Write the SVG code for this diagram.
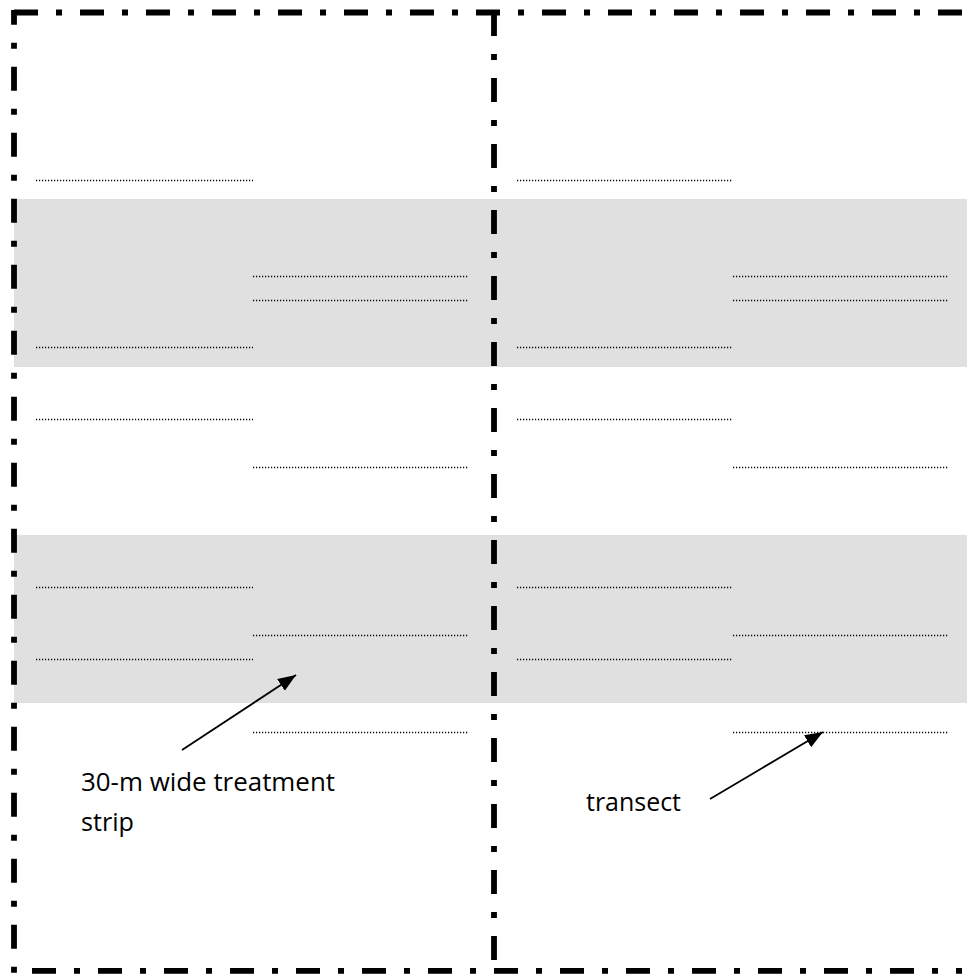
<svg xmlns="http://www.w3.org/2000/svg" width="967" height="974" viewBox="0 0 967 974">
<defs>
<style>
.band{fill:#E0E0E0;stroke:none}
.border{stroke:#000;stroke-width:5.8;fill:none;stroke-dasharray:24 18 6 18}
.tr{stroke:#000;stroke-width:1.5;fill:none;stroke-dasharray:1.2 1.8}
.arrow{stroke:#000;stroke-width:1.8;fill:none;marker-end:url(#head)}
.lbl{font-family:"Open Sans","Noto Sans","Liberation Sans",sans-serif;font-size:25px;fill:#000}
</style>
<marker id="head" markerUnits="userSpaceOnUse" markerWidth="19" markerHeight="15" refX="18" refY="7" orient="auto" viewBox="0 0 19 15">
<path d="M0,0 L18,7 L0,14 z" fill="#000"/>
</marker>
</defs>
<rect width="967" height="974" fill="#fff"/>
<g id="strips">
<rect id="strip1" class="band" x="14" y="199" width="953" height="168"/>
<rect id="strip2" class="band" x="14" y="535" width="953" height="168"/>
</g>
<g id="transects">
<line class="tr" x1="36" y1="180.5" x2="253" y2="180.5"/>
<line class="tr" x1="517" y1="180.5" x2="733" y2="180.5"/>
<line class="tr" x1="253" y1="276.5" x2="469" y2="276.5"/>
<line class="tr" x1="733" y1="276.5" x2="949" y2="276.5"/>
<line class="tr" x1="253" y1="300.5" x2="469" y2="300.5"/>
<line class="tr" x1="733" y1="300.5" x2="949" y2="300.5"/>
<line class="tr" x1="36" y1="347.5" x2="253" y2="347.5"/>
<line class="tr" x1="517" y1="347.5" x2="733" y2="347.5"/>
<line class="tr" x1="36" y1="419.5" x2="253" y2="419.5"/>
<line class="tr" x1="517" y1="419.5" x2="733" y2="419.5"/>
<line class="tr" x1="253" y1="467.5" x2="469" y2="467.5"/>
<line class="tr" x1="733" y1="467.5" x2="949" y2="467.5"/>
<line class="tr" x1="36" y1="587.5" x2="253" y2="587.5"/>
<line class="tr" x1="517" y1="587.5" x2="733" y2="587.5"/>
<line class="tr" x1="253" y1="635.5" x2="469" y2="635.5"/>
<line class="tr" x1="733" y1="635.5" x2="949" y2="635.5"/>
<line class="tr" x1="36" y1="659.5" x2="253" y2="659.5"/>
<line class="tr" x1="517" y1="659.5" x2="733" y2="659.5"/>
<line class="tr" x1="253" y1="732.5" x2="469" y2="732.5"/>
<line class="tr" x1="733" y1="732.5" x2="949" y2="732.5"/>
</g>
<g id="borders">
<line class="border" x1="14" y1="12.5" x2="962" y2="12.5"/>
<line class="border" x1="14" y1="10" x2="14" y2="973" stroke-dashoffset="9.3"/>
<line class="border" x1="494" y1="12" x2="494" y2="960"/>
<line class="border" x1="32" y1="970.8" x2="962" y2="970.8"/>
</g>
<g id="connectors">
<line class="arrow" x1="182" y1="750" x2="296" y2="675"/>
<line class="arrow" x1="710" y1="799" x2="823" y2="732"/>
</g>
<g id="label-strip">
<text class="lbl" x="81" y="791" textLength="254" lengthAdjust="spacingAndGlyphs">30-m wide treatment</text>
<text class="lbl" x="81" y="831" textLength="53" lengthAdjust="spacingAndGlyphs">strip</text>
</g>
<g id="label-transect">
<text class="lbl" x="586" y="811" textLength="95" lengthAdjust="spacingAndGlyphs">transect</text>
</g>
</svg>
